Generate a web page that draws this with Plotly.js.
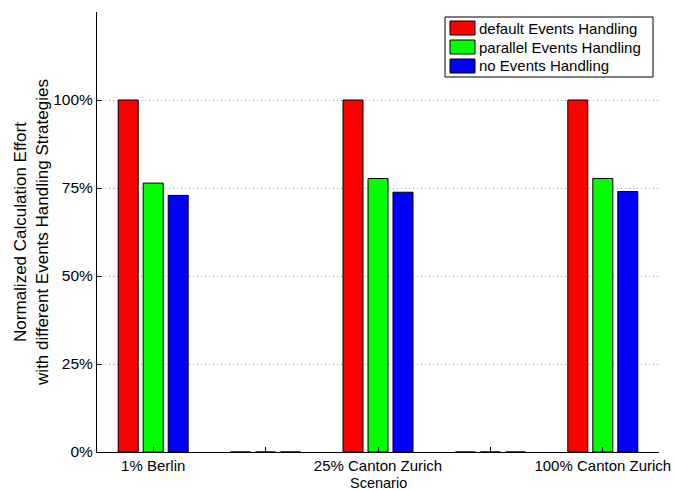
<!DOCTYPE html>
<html>
<head>
<meta charset="utf-8">
<script src="https://cdn.plot.ly/plotly-3.0.1.min.js"></script>
<style>html,body{margin:0;padding:0;background:#fff;}#chart{width:675px;height:490px;}</style>
</head>
<body>
<div id="chart"></div>
<script>
// Scenario slots (2 and 4 are empty spacer slots)
const positions = [1, 2, 3, 4, 5];
const tickLabels = ["1% Berlin", "", "25% Canton Zurich", "", "100% Canton Zurich"];
const seriesNames = ["default Events Handling", "parallel Events Handling", "no Events Handling"];
const defaultValues  = [1.000, 0, 1.000, 0, 1.000];
const parallelValues = [0.764, 0, 0.777, 0, 0.777];
const noneValues     = [0.729, 0, 0.738, 0, 0.740];
const yTicks = [0, 0.25, 0.5, 0.75, 1.0];
const yTickLabels = ["0%", "25%", "50%", "75%", "100%"];

const colors = ["#ff0000", "#00ff00", "#0000ff"];
const allValues = [defaultValues, parallelValues, noneValues];

const traces = allValues.map((vals, i) => ({
  type: 'bar',
  x: positions,
  y: vals,
  name: seriesNames[i],
  marker: {color: colors[i], line: {color: '#000', width: 1}},
  hoverinfo: 'none',
  showlegend: false
}));

const W = 675, H = 490;
const M = {l: 97, r: 16, t: 12, b: 38};
const pw = W - M.l - M.r, ph = H - M.t - M.b;
const px = x => (x - M.l) / pw;
const py = y => (H - M.b - y) / ph;

const fam = 'Liberation Sans, Arial, sans-serif';
const tickFont = {family: fam, size: 15, color: '#000'};

// custom legend (MATLAB-style)
const shapes = [{
  type: 'rect', xref: 'paper', yref: 'paper',
  x0: px(445), x1: px(653), y0: py(17), y1: py(77),
  line: {color: '#000', width: 1}, fillcolor: '#fff', layer: 'above'
}];
const annotations = [];
const rowY = [28, 47, 66];
seriesNames.forEach((nm, i) => {
  shapes.push({
    type: 'rect', xref: 'paper', yref: 'paper',
    x0: px(450), x1: px(475), y0: py(rowY[i] - 7), y1: py(rowY[i] + 7),
    line: {color: '#000', width: 1}, fillcolor: colors[i], layer: 'above'
  });
  annotations.push({
    xref: 'paper', yref: 'paper', x: px(477), y: py(rowY[i]),
    xanchor: 'left', yanchor: 'middle', showarrow: false,
    text: nm, font: {family: fam, size: 15, color: '#000'}
  });
});
annotations.push({
  xref: 'paper', yref: 'paper', x: 0.5, y: 0, xanchor: 'center', yanchor: 'middle',
  yshift: -30.5, showarrow: false, borderpad: 0, text: 'Scenario', font: {family: fam, size: 14.5, color: '#000'}
});

const layout = {
  width: W, height: H,
  margin: M,
  paper_bgcolor: '#fff', plot_bgcolor: '#fff',
  font: tickFont,
  barmode: 'group',
  bargap: 0.333,
  bargroupgap: 0.2,
  showlegend: false,
  shapes: shapes,
  annotations: annotations,
  xaxis: {
    range: [0.5, 5.5],
    tickmode: 'array', tickvals: positions, ticktext: tickLabels,
    ticks: 'inside', ticklen: 5, tickcolor: '#000',
    ticklabeloverflow: 'allow',
    showline: true, linecolor: '#000', linewidth: 1,
    showgrid: false, zeroline: false,
    tickfont: tickFont
  },
  yaxis: {
    range: [0, 1.25],
    tickmode: 'array', tickvals: yTicks, ticktext: yTickLabels,
    ticks: 'inside', ticklen: 5, tickcolor: '#000',
    showline: true, linecolor: '#000', linewidth: 1,
    showgrid: true, gridcolor: '#a0a0a0', griddash: '1px,3px', gridwidth: 1,
    zeroline: false,
    tickfont: {family: fam, size: 15.5, color: '#000'},
    title: {text: 'Normalized Calculation Effort<br>with different Events Handling Strategies', font: {family: fam, size: 17, color: '#000'}, standoff: 0}
  }
};

Plotly.newPlot('chart', traces, layout, {displayModeBar: false, staticPlot: true});
</script>
</body>
</html>
